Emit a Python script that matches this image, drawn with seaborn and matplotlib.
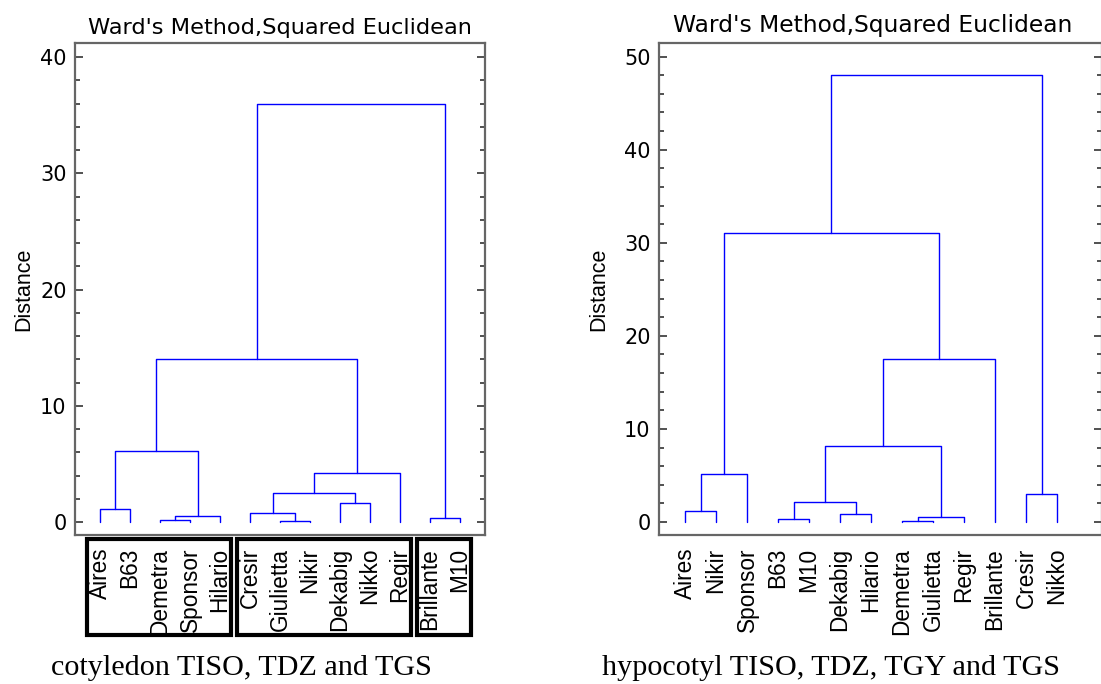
import numpy as np
import pandas as pd
import matplotlib
matplotlib.use("Agg")
import matplotlib.pyplot as plt
import matplotlib.transforms as mtransforms
from matplotlib.patches import Rectangle
from matplotlib.ticker import MultipleLocator
import seaborn as sns

# ---------------- data ----------------
# cotyledon dendrogram (leaf order left->right)
cot_leaves = ["Aires", "B63", "Demetra", "Sponsor", "Hilario", "Cresir", "Giulietta",
              "Nikir", "Dekabig", "Nikko", "Regir", "Brillante", "M10"]
# linkage: cluster ids 0..12 are leaves, 13+k is the k-th merge
cot_merge_a = [6, 2, 11, 14, 5, 0, 8, 17, 20, 18, 22, 23]
cot_merge_b = [7, 3, 12, 4, 13, 1, 9, 19, 10, 16, 21, 15]
cot_heights = [0.10, 0.17, 0.34, 0.50, 0.80, 1.10, 1.63, 2.50, 4.18, 6.13, 14.0, 36.0]
cot_groups = [(0, 4), (5, 10), (11, 12)]  # boxed leaf groups (first, last leaf index)

# hypocotyl dendrogram
hyp_leaves = ["Aires", "Nikir", "Sponsor", "B63", "M10", "Dekabig", "Hilario", "Demetra",
              "Giulietta", "Regir", "Brillante", "Cresir", "Nikko"]
hyp_merge_a = [7, 3, 13, 5, 0, 14, 11, 17, 18, 21, 20, 23]
hyp_merge_b = [8, 4, 9, 6, 1, 16, 12, 2, 15, 10, 22, 19]
hyp_heights = [0.14, 0.32, 0.54, 0.86, 1.18, 2.15, 2.98, 5.13, 8.17, 17.5, 31.07, 48.0]

title_text = "Ward's Method,Squared Euclidean"
ylabel_text = "Distance"
captions = ["cotyledon TISO, TDZ and TGS", "hypocotyl TISO, TDZ, TGY and TGS"]


def dendro_frame(n, merge_a, merge_b, heights):
    xpos = {i: float(i + 1) for i in range(n)}
    ypos = {i: 0.0 for i in range(n)}
    rows = []
    for k, (a, b, h) in enumerate(zip(merge_a, merge_b, heights)):
        xa, xb = xpos[a], xpos[b]
        rows += [(k, 0, xa, ypos[a]), (k, 1, xa, h), (k, 2, xb, h), (k, 3, xb, ypos[b])]
        xpos[n + k] = (xa + xb) / 2.0
        ypos[n + k] = h
    return pd.DataFrame(rows, columns=["link", "order", "x", "y"])


sns.set_style("white")
plt.rcParams["font.family"] = ["Liberation Sans", "DejaVu Sans"]
plt.rcParams["text.color"] = "black"
plt.rcParams["axes.labelcolor"] = "black"

W, H = 1101, 684
fig = plt.figure(figsize=(W / 100, H / 100), dpi=100)

ax_top, ax_bot = 42.7, 535.3
axes_px = [(75, 485), (659, 1102)]
ylims = [(-1.14, 41.23), (-1.43, 51.5)]
xlims = [(1 - 25 / 30, 13 + 25 / 30), (1 - 26 / 31, 1 + (1102 - 685) / 31)]
title_x = [0.501, 0.482]
title_pad = [6, 7.5]
title_size = [16.2, 16.8]
label_pad = [4, 11]
caption_x = [241.5, 831]

datasets = [
    (cot_leaves, cot_merge_a, cot_merge_b, cot_heights),
    (hyp_leaves, hyp_merge_a, hyp_merge_b, hyp_heights),
]

axes = []
for i, (leaves, ma, mb, hs) in enumerate(datasets):
    x0, x1 = axes_px[i]
    ax = fig.add_axes([x0 / W, 1 - ax_bot / H, (x1 - x0) / W, (ax_bot - ax_top) / H])
    axes.append(ax)
    df = dendro_frame(len(leaves), ma, mb, hs)
    sns.lineplot(data=df, x="x", y="y", units="link", estimator=None, sort=False,
                 color="#0000ff", linewidth=1.0, legend=False, ax=ax)
    ax.set_xlim(*xlims[i])
    ax.set_ylim(*ylims[i])
    ax.set_xticks(np.arange(1, len(leaves) + 1))
    ax.set_xticklabels(leaves, rotation=90, fontsize=16.3, va="top", ha="center",
                       color="black")
    ax.tick_params(axis="x", length=0, pad=9)
    ax.yaxis.set_major_locator(MultipleLocator(10))
    ax.yaxis.set_minor_locator(MultipleLocator(2))
    ax.tick_params(axis="y", which="both", direction="in", left=True, right=True,
                   colors="#333333", labelcolor="black", width=1.2)
    ax.tick_params(axis="y", which="major", length=6, pad=6, labelsize=15)
    ax.tick_params(axis="y", which="minor", length=3.3)
    for lab in ax.get_yticklabels():
        lab.set_fontfamily("DejaVu Sans")
    for sp in ax.spines.values():
        sp.set_visible(True)
        sp.set_color("#666666")
        sp.set_linewidth(1.6)
    ax.set_xlabel("")
    ax.set_ylabel(ylabel_text, fontsize=15.5, labelpad=label_pad[i], color="black")
    ax.set_title(title_text, fontsize=title_size[i], family="DejaVu Sans", x=title_x[i],
                 pad=title_pad[i], color="black")
    fig.text(caption_x[i] / W, 1 - 675 / H, captions[i], ha="center", va="baseline",
             fontsize=21.7, family="Liberation Serif", color="black")

# boxes around leaf groups in the cotyledon panel
ax = axes[0]
trans = mtransforms.blended_transform_factory(ax.transData, ax.transAxes)
for first, last in cot_groups:
    left = first + 1 - 0.43
    right = last + 1 + 0.37
    rect = Rectangle((left, -0.203), right - left, 0.203 - 0.0085, transform=trans,
                     fill=False, edgecolor="black", linewidth=3, clip_on=False)
    ax.add_patch(rect)

fig.savefig("out.png", dpi=100)
